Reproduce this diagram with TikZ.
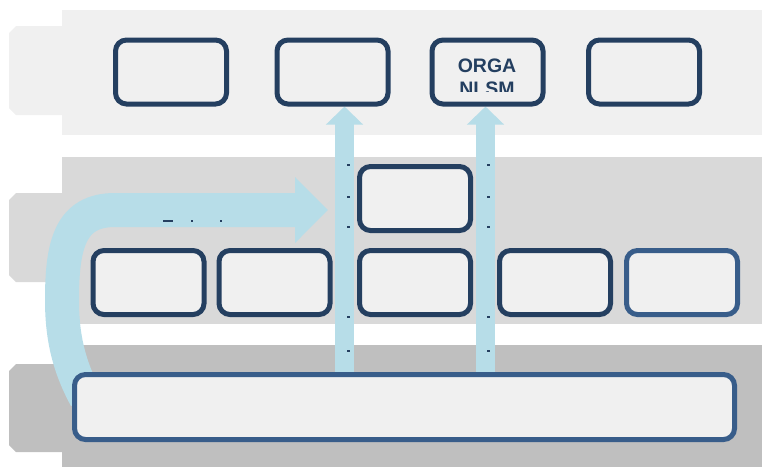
\documentclass[tikz,border=0pt]{standalone}
\usepackage{fontspec}
\setmainfont{Liberation Sans}
\usetikzlibrary{arrows.meta,calc}
\pgfdeclarelayer{bands}
\pgfdeclarelayer{arrowsl}
\pgfsetlayers{bands,arrowsl,main}
\definecolor{navy}{HTML}{243F60}
\definecolor{mblue}{HTML}{385D8A}
\definecolor{lblue}{HTML}{B7DDE8}
\definecolor{bandA}{HTML}{F0F0F0}
\definecolor{bandB}{HTML}{D9D9D9}
\definecolor{bandC}{HTML}{BFBFBF}
\definecolor{boxfill}{HTML}{F0F0F0}
\begin{document}
\begin{tikzpicture}[x=1pt,y=-1pt,
  box/.style={draw=navy, line width=5pt, fill=boxfill, rounded corners=11pt,
    inner sep=0pt, minimum width=111pt, minimum height=64pt},
  lbox/.style={box, draw=mblue},
  varrow/.style={draw=lblue, line width=19pt, -{Triangle[width=36pt,length=18pt,fill=lblue,color=lblue]}},
  carrow/.style={draw=lblue, line width=34pt, -{Triangle[width=64pt,length=33pt,fill=lblue,color=lblue]}},
  dotmark/.style={fill=navy},
  lbl/.style={font=\bfseries\fontsize{19.5}{23}\selectfont, text=navy, align=center, inner sep=0pt}]
\useasboundingbox (0,0) rectangle (762,467);

% bands
\begin{pgfonlayer}{bands}
\fill[bandA] (62,10) rectangle (762,135);
\fill[bandA] (62,26) -- (16,26) -- (9,33) -- (9,108) -- (16,115) -- (62,115) -- cycle;
\fill[bandB] (62,157) rectangle (762,324);
\fill[bandB] (62,193) -- (16,193) -- (9,200) -- (9,275) -- (16,282) -- (62,282) -- cycle;
\fill[bandC] (62,345) rectangle (762,467);
\fill[bandC] (62,364) -- (16,364) -- (9,371) -- (9,445) -- (16,452) -- (62,452) -- cycle;
\end{pgfonlayer}

% top row
\node[box] (t1) at (171,72) {};
\node[box] (t2) at (332.5,72) {};
\node[box] (t3) at (487.5,72) {};
\node[box] (t4) at (644,72) {};
\begin{scope}
  \clip (430,40) rectangle (545,91);
  \node[lbl, anchor=north] (orga) at (487,58.5) {ORGA\\NLSM};
\end{scope}

% middle rows
\node[box] (u3) at (415,198.5) {};
\node[box] (m1) at (148.5,282.5) {};
\node[box] (m2) at (274.5,282.5) {};
\node[box] (m3) at (415,282.5) {};
\node[box] (m4) at (555,282.5) {};
\node[lbox] (m5) at (682,282.5) {};

% bottom
\node[lbox, minimum width=660pt, minimum height=65pt] (bot) at (404.5,407) {};

% arrows
\begin{pgfonlayer}{arrowsl}
\coordinate (v1) at (344.5,385);
\coordinate (v2) at (485.5,385);
\draw[varrow] (v1) -- (v1 |- t2.south);
\draw[varrow] (v2) -- (v2 |- t3.south);
\coordinate (cs) at (86,398);
\coordinate (ce) at (328,210);
\draw[carrow] (cs) .. controls (68,365) and (62,335) .. (62,300)
  .. controls (62,245) and (70,210) .. (115,210) -- (ce);
\end{pgfonlayer}

% small marks on arrows
\foreach \yy in {165,197,227,317,351} {
  \fill[dotmark] (347,\yy-1) rectangle (349.5,\yy+1);
  \fill[dotmark] (487,\yy-1) rectangle (489.5,\yy+1);
}
\fill[dotmark] (163,220.3) rectangle (173,221.7);
\fill[dotmark] (191,220) rectangle (193,222);
\fill[dotmark] (220,220) rectangle (222,222);
\end{tikzpicture}
\end{document}
